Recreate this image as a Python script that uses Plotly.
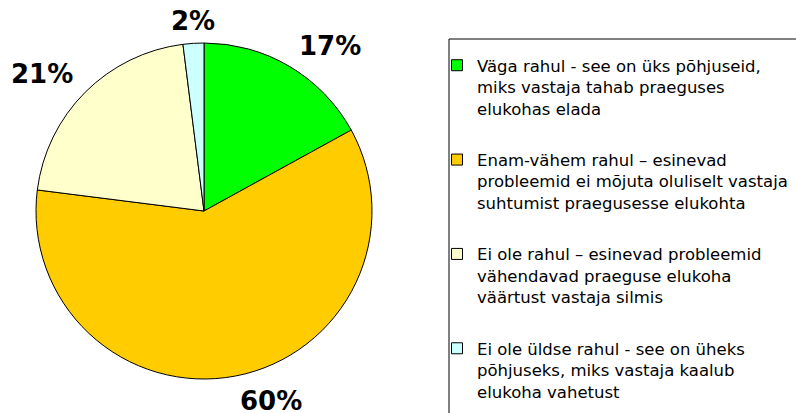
import math
import plotly.graph_objects as go

W, H = 796, 413

categories = [
    "Väga rahul - see on üks põhjuseid,<br>miks vastaja tahab praeguses<br>elukohas elada",
    "Enam-vähem rahul – esinevad<br>probleemid ei mõjuta oluliselt vastaja<br>suhtumist praegusesse elukohta",
    "Ei ole rahul – esinevad probleemid<br>vähendavad praeguse elukoha<br>väärtust vastaja silmis",
    "Ei ole üldse rahul - see on üheks<br>põhjuseks, miks vastaja kaalub<br>elukoha vahetust",
]
values = [17, 60, 21, 2]
colors = ["#00FF00", "#FFCC00", "#FFFFCC", "#CCFFFF"]

# pie geometry (pixels)
cx, cy, R = 204, 211, 168
dom_x = [(cx - R) / W, (cx + R) / W]
dom_y = [(H - cy - R) / H, (H - cy + R) / H]

fig = go.Figure()
fig.add_trace(go.Pie(
    labels=categories, values=values, sort=False, direction="clockwise",
    rotation=0, marker=dict(colors=colors, line=dict(color="black", width=1)),
    textinfo="none", hoverinfo="label+percent", showlegend=False,
    domain=dict(x=dom_x, y=dom_y),
))

# legend entries (one group per category to control spacing)
for i, (cat, col) in enumerate(zip(categories, colors)):
    fig.add_trace(go.Scatter(
        x=[None], y=[None], mode="markers", name=cat, legendgroup=str(i),
        marker=dict(symbol="square", size=11, color=col, line=dict(color="black", width=1)),
        showlegend=True, hoverinfo="skip",
    ))

# percentage labels placed outside each slice
total = sum(values)
annotations = []
cum = 0
gap = 14
for v in values:
    mid = (cum + v / 2) / total * 2 * math.pi
    cum += v
    s, c = math.sin(mid), math.cos(mid)
    px = cx + (R + gap) * s
    py = cy - (R + gap) * c
    if abs(s) < 0.1:
        xa = "center"
    else:
        xa = "left" if s > 0 else "right"
    ya = "bottom" if c > 0 else "top"
    annotations.append(dict(
        x=px / W, y=(H - py) / H, xref="paper", yref="paper",
        text=f"{v}%", showarrow=False, xanchor=xa, yanchor=ya,
        font=dict(family="DejaVu Sans", size=26, color="black", weight="bold"),
        yshift=-9 if ya == "bottom" else 6,
    ))

fig.update_layout(
    width=W, height=H,
    margin=dict(l=0, r=0, t=0, b=0),
    paper_bgcolor="white", plot_bgcolor="white",
    xaxis=dict(visible=False), yaxis=dict(visible=False),
    annotations=annotations,
    showlegend=True,
    legend=dict(
        x=437 / W, y=(H - 48) / H, xanchor="left", yanchor="top",
        font=dict(family="DejaVu Sans", size=16.5, color="black"),
        tracegroupgap=27, valign="top",
        bgcolor="rgba(0,0,0,0)", borderwidth=0,
    ),
    shapes=[dict(type="rect", xref="paper", yref="paper",
                 x0=449 / W, x1=1.05, y0=-0.05, y1=(H - 39) / H,
                 line=dict(color="black", width=1), fillcolor="rgba(0,0,0,0)",
                 layer="below")],
    font=dict(family="DejaVu Sans"),
)

fig.write_html("out.html", config={"displayModeBar": False},
               post_script="document.body.style.margin='0';")
